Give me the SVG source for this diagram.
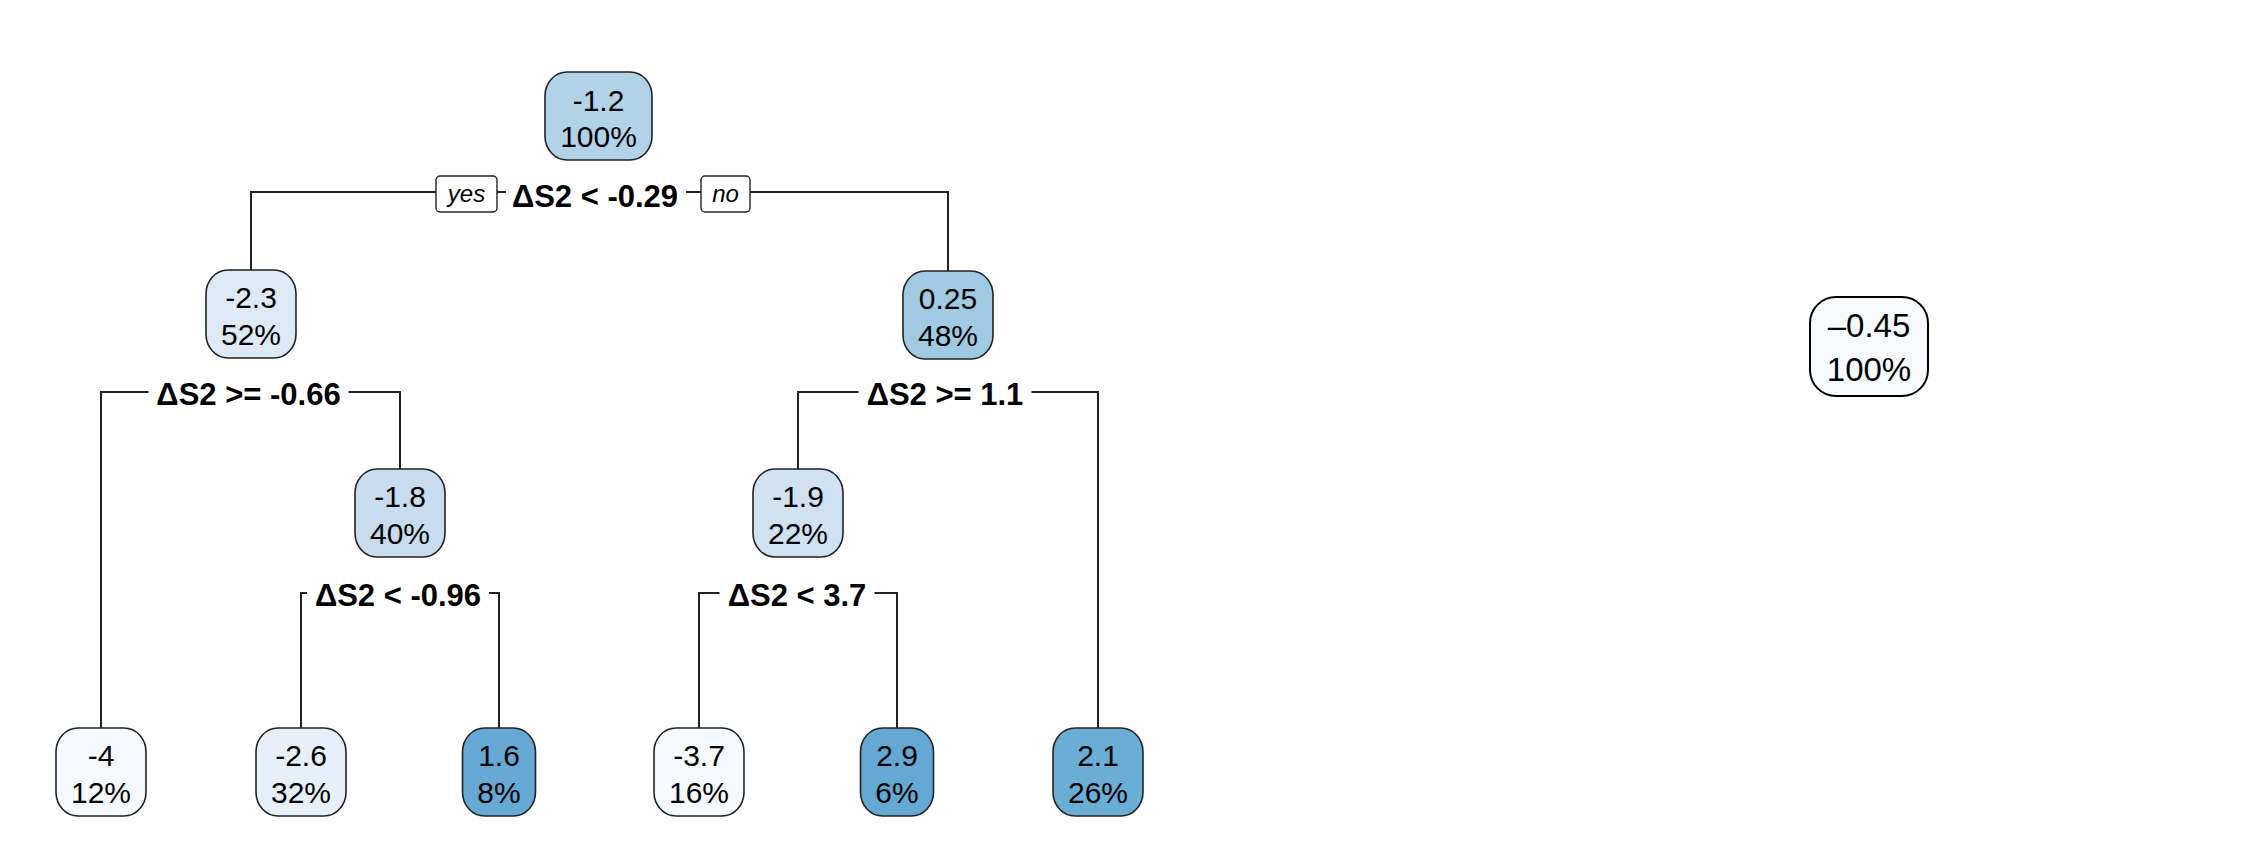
<svg xmlns="http://www.w3.org/2000/svg" width="2264" height="868" viewBox="0 0 2264 868">
<style>
.box{stroke:#222;stroke-width:1.6}
.t{font-family:"Liberation Sans",Arial,sans-serif;font-size:30px;fill:#000;text-anchor:middle}
.s{font-family:"Liberation Sans",Arial,sans-serif;font-size:31px;font-weight:bold;fill:#000;text-anchor:middle}
.yn{font-family:"Liberation Sans",Arial,sans-serif;font-size:24px;font-style:italic;fill:#000;text-anchor:middle}
.ynbox{fill:#fff;stroke:#222;stroke-width:1.4}
.c{fill:none;stroke:#222;stroke-width:2}
.bg{fill:#fff}
</style>
<rect width="2264" height="868" fill="#fff"/>
<g id="connectors">
<path class="c" d="M251,270 V192 H948 V271"/>
<path class="c" d="M101,728 V392 H400 V469"/>
<path class="c" d="M798,469 V392 H1098 V728"/>
<path class="c" d="M301,728 V593 H499 V728"/>
<path class="c" d="M699,728 V593 H897 V728"/>
</g>
<g id="split1">
<rect class="bg" x="506" y="180" width="180" height="30"/>
<text class="s" x="595" y="207">ΔS2 &lt; -0.29</text>
<rect class="ynbox" x="436" y="176" width="61" height="36" rx="4"/>
<text class="yn" x="466.5" y="202">yes</text>
<rect class="ynbox" x="701" y="176" width="49" height="36" rx="4"/>
<text class="yn" x="725.5" y="202">no</text>
</g>
<g id="split2a">
<rect class="bg" x="148.5" y="380" width="200" height="30"/>
<text class="s" x="248.5" y="405">ΔS2 &gt;= -0.66</text>
</g>
<g id="split2b">
<rect class="bg" x="858.5" y="380" width="173" height="30"/>
<text class="s" x="945" y="405">ΔS2 &gt;= 1.1</text>
</g>
<g id="split3a">
<rect class="bg" x="307" y="581" width="182" height="30"/>
<text class="s" x="398" y="606">ΔS2 &lt; -0.96</text>
</g>
<g id="split3b">
<rect class="bg" x="719.5" y="581" width="155" height="30"/>
<text class="s" x="797" y="606">ΔS2 &lt; 3.7</text>
</g>
<g id="n1">
<rect class="box" x="545" y="72" width="107" height="88" rx="22" ry="24" fill="#b2d2e8"/>
<text class="t" x="598.5" y="111">-1.2</text>
<text class="t" x="598.5" y="147">100%</text>
</g>
<g id="n2">
<rect class="box" x="206" y="270" width="90" height="88" rx="22" ry="24" fill="#dde9f5"/>
<text class="t" x="251" y="308">-2.3</text>
<text class="t" x="251" y="345">52%</text>
</g>
<g id="n3">
<rect class="box" x="903" y="271" width="90" height="88" rx="22" ry="24" fill="#9fcae2"/>
<text class="t" x="948" y="309">0.25</text>
<text class="t" x="948" y="346">48%</text>
</g>
<g id="n5">
<rect class="box" x="355" y="469" width="90" height="88" rx="22" ry="24" fill="#c8dcef"/>
<text class="t" x="400" y="507">-1.8</text>
<text class="t" x="400" y="544">40%</text>
</g>
<g id="n6">
<rect class="box" x="753" y="469" width="90" height="88" rx="22" ry="24" fill="#d0e1f2"/>
<text class="t" x="798" y="507">-1.9</text>
<text class="t" x="798" y="544">22%</text>
</g>
<g id="n4">
<rect class="box" x="56" y="728" width="90" height="88" rx="22" ry="24" fill="#f5f9fe"/>
<text class="t" x="101" y="766">-4</text>
<text class="t" x="101" y="803">12%</text>
</g>
<g id="n10">
<rect class="box" x="256" y="728" width="90" height="88" rx="22" ry="24" fill="#e7f0f9"/>
<text class="t" x="301" y="766">-2.6</text>
<text class="t" x="301" y="803">32%</text>
</g>
<g id="n11">
<rect class="box" x="462.5" y="728" width="73" height="88" rx="22" ry="24" fill="#65a9d4"/>
<text class="t" x="499" y="766">1.6</text>
<text class="t" x="499" y="803">8%</text>
</g>
<g id="n12">
<rect class="box" x="654" y="728" width="90" height="88" rx="22" ry="24" fill="#f5f9fe"/>
<text class="t" x="699" y="766">-3.7</text>
<text class="t" x="699" y="803">16%</text>
</g>
<g id="n13">
<rect class="box" x="860.5" y="728" width="73" height="88" rx="22" ry="24" fill="#64a9d4"/>
<text class="t" x="897" y="766">2.9</text>
<text class="t" x="897" y="803">6%</text>
</g>
<g id="n7">
<rect class="box" x="1053" y="728" width="90" height="88" rx="22" ry="24" fill="#6aadd5"/>
<text class="t" x="1098" y="766">2.1</text>
<text class="t" x="1098" y="803">26%</text>
</g>
<g id="single">
<rect x="1810" y="297" width="118" height="99" rx="26" ry="26" fill="#f7fbff" stroke="#000" stroke-width="2"/>
<text class="t" style="font-size:33px" x="1869" y="337">–0.45</text>
<text class="t" style="font-size:33px" x="1869" y="381">100%</text>
</g>
</svg>
